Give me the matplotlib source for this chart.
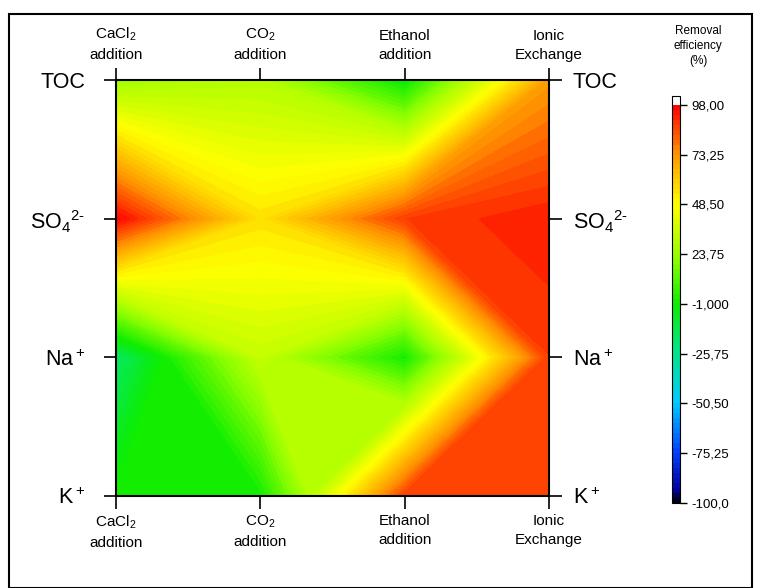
import numpy as np
import matplotlib
matplotlib.use("Agg")
import matplotlib.pyplot as plt
from matplotlib.colors import LinearSegmentedColormap
from matplotlib.patches import Rectangle
from matplotlib.transforms import ScaledTranslation

plt.rcParams['font.family'] = ['Liberation Sans', 'DejaVu Sans']
plt.rcParams['mathtext.default'] = 'regular'

methods = ['CaCl$_2$\naddition', 'CO$_2$\naddition', 'Ethanol\naddition', 'Ionic\nExchange']
species = ['K$^+$', 'Na$^+$', 'SO$_4$$^{2\u2010}$', 'TOC']   # bottom -> top

# removal efficiency (%), rows = species (K, Na, SO4, TOC), cols = methods
K_vals = [0, 0, 88, 88]
Na_vals = [-18, 34, 0, 88]
SO4_vals = [97, 55, 88, 93]
TOC_vals = [25, 30, -3, 72]

Z = np.array([K_vals, Na_vals, SO4_vals, TOC_vals], dtype=float)
x = np.arange(len(methods))
y = np.arange(len(species))
X, Y = np.meshgrid(x, y)

cb_ticks = [98.0, 73.25, 48.5, 23.75, -1.0, -25.75, -50.5, -75.25, -100.0]
cb_labels = ['98,00', '73,25', '48,50', '23,75', '-1,000', '-25,75', '-50,50', '-75,25', '-100,0']

vmin, vmax = -100, 98
stops = [(-100, (0.0, 0.0, 0.0)), (-94, (0.0, 0.0, 0.6)), (-75, (0.0, 0.25, 1.0)),
         (-50, (0.0, 0.8, 1.0)), (-25, (0.0, 0.9, 0.55)), (-1, (0.05, 0.93, 0.0)),
         (23.75, (0.6, 1.0, 0.0)), (48.5, (1.0, 1.0, 0.0)), (73.25, (1.0, 0.6, 0.0)),
         (98, (1.0, 0.0, 0.0))]
cmap = LinearSegmentedColormap.from_list(
    'removal', [((v - vmin) / (vmax - vmin), c) for v, c in stops])
cmap.set_over('white')
levels = np.linspace(vmin, vmax, 81)

fig = plt.figure(figsize=(7.6, 5.88), dpi=100)
fig.patches.append(Rectangle((9 / 760, 0.0), 743 / 760, 1 - 14 / 588,
                             transform=fig.transFigure, fill=False,
                             edgecolor='black', linewidth=1.5))

ax = fig.add_axes([116 / 760, 1 - 496 / 588, 433 / 760, 416 / 588])
cs = ax.contourf(X, Y, Z, levels=levels, cmap=cmap, extend='max')
ax.set_xlim(0, 3)
ax.set_ylim(0, 3)

ax.set_xticks(x)
ax.set_xticklabels(methods, fontsize=11, linespacing=1.45)
ax.set_yticks(y)
ax.set_yticklabels(species, fontsize=15.5)
ax.tick_params(axis='both', direction='out', length=9, width=1.2,
               top=True, right=True, labeltop=True, labelright=True)
ax.tick_params(axis='y', pad=8)
ax.tick_params(axis='x', pad=4)
shift = ScaledTranslation(-5 / 72, 0, fig.dpi_scale_trans)
for t in ax.yaxis.get_major_ticks():
    t.label1.set_transform(t.label1.get_transform() + shift)
for s in ax.spines.values():
    s.set_linewidth(1.5)

cax = fig.add_axes([672 / 760, 1 - 503 / 588, 8 / 760, 407 / 588])
cb = fig.colorbar(cs, cax=cax, extend='max', extendrect=True, extendfrac=0.022)
cb.set_ticks(cb_ticks)
cb.set_ticklabels(cb_labels)
cb.ax.tick_params(labelsize=9.5, length=5, width=1)
cb.outline.set_linewidth(0.8)
fig.text(698 / 760, 1 - 46 / 588, 'Removal\nefficiency\n(%)', ha='center', va='center',
         fontsize=8.5, linespacing=1.35)

fig.savefig('out.png', dpi=100)
